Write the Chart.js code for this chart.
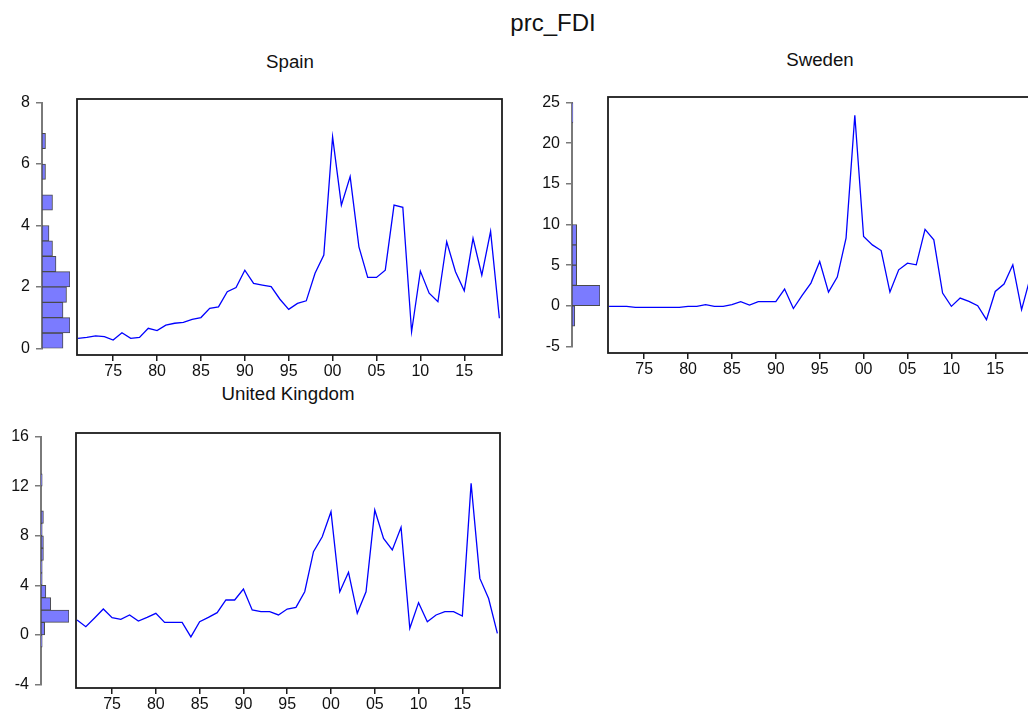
<!DOCTYPE html>
<html>
<head>
<meta charset="utf-8">
<title>prc_FDI</title>
<script src="https://cdn.jsdelivr.net/npm/chart.js@4.4.1/dist/chart.umd.min.js"></script>
<style>
  html, body { margin: 0; padding: 0; width: 1028px; height: 718px; overflow: hidden; background: #ffffff; }
  canvas { position: absolute; }
  .ttl { position: absolute; font-family: "Liberation Sans", Arial, sans-serif; color: #111111;
         white-space: nowrap; text-align: center; width: 400px; }
</style>
</head>
<body>
<div class="ttl" style="left:353px; top:11px; font-size:24px; line-height:24px;">prc_FDI</div>
<div class="ttl" style="left:90px; top:53px; font-size:18.7px; line-height:18.7px;">Spain</div>
<div class="ttl" style="left:620px; top:51px; font-size:18.7px; line-height:18.7px;">Sweden</div>
<div class="ttl" style="left:88px; top:385px; font-size:18.7px; line-height:18.7px;">United Kingdom</div>

<script>
// Annual observations
const years = [1971, 1972, 1973, 1974, 1975, 1976, 1977, 1978, 1979, 1980,
               1981, 1982, 1983, 1984, 1985, 1986, 1987, 1988, 1989, 1990,
               1991, 1992, 1993, 1994, 1995, 1996, 1997, 1998, 1999, 2000,
               2001, 2002, 2003, 2004, 2005, 2006, 2007, 2008, 2009, 2010,
               2011, 2012, 2013, 2014, 2015, 2016, 2017, 2018, 2019];

// FDI inflows, % of GDP
const spain = [0.43, 0.46, 0.51, 0.49, 0.38, 0.61, 0.43, 0.46, 0.75, 0.68,
               0.85, 0.91, 0.94, 1.03, 1.09, 1.38, 1.43, 1.91, 2.04, 2.59,
               2.17, 2.12, 2.07, 1.67, 1.35, 1.54, 1.62, 2.49, 3.07, 6.81,
               4.65, 5.55, 3.33, 2.36, 2.36, 2.59, 4.65, 4.58, 0.64, 2.56,
               1.86, 1.59, 3.49, 2.54, 1.94, 3.60, 2.43, 3.82, 1.07];

const sweden = [0.16, 0.16, 0.16, 0.03, 0.03, 0.03, 0.03, 0.03, 0.03, 0.16,
                0.16, 0.36, 0.16, 0.16, 0.36, 0.72, 0.32, 0.72, 0.72, 0.72,
                2.23, -0.10, 1.47, 2.95, 5.54, 1.87, 3.67, 8.33, 23.07, 8.53,
                7.53, 6.85, 1.87, 4.54, 5.34, 5.14, 9.40, 8.13, 1.75, 0.16,
                1.16, 0.76, 0.24, -1.43, 1.95, 2.83, 5.14, -0.24, 3.67];

const unitedKingdom = [1.28, 0.76, 1.44, 2.15, 1.47, 1.34, 1.68, 1.20, 1.49, 1.81,
                       1.10, 1.10, 1.10, -0.05, 1.15, 1.49, 1.86, 2.86, 2.86, 3.72,
                       2.07, 1.94, 1.94, 1.68, 2.15, 2.28, 3.51, 6.66, 7.84, 9.81,
                       3.51, 5.04, 1.81, 3.51, 9.94, 7.71, 6.80, 8.58, 0.63, 2.65,
                       1.15, 1.68, 1.94, 1.94, 1.60, 12.04, 4.56, 2.97, 0.23];

// Axis ticks
const yearTicks = [1975, 1980, 1985, 1990, 1995, 2000, 2005, 2010, 2015];
const spainTicks = [0, 2, 4, 6, 8];
const swedenTicks = [-5, 0, 5, 10, 15, 20, 25];
const ukTicks = [-4, 0, 4, 8, 12, 16];

// Histogram bin widths
const spainBin = 0.5;
const swedenBin = 2.5;
const ukBin = 1;

// ---- styling / layout ----
const FONT = '"Liberation Sans", Arial, sans-serif';
const TEXT = '#111111';
const LINE_BLUE = '#0000ff';
const BAR_FILL = '#7b7bff';
const BAR_EDGE = '#4a4a4a';
const AXIS_GRAY = '#7a7a7a';
const FRAME = '#1c1c1c';
const X_MIN = 1970.88, X_MAX = 2019.3;
const HIST_SPAN = 28;   // pixel length of the tallest histogram bar

Chart.defaults.font.family = FONT;
Chart.defaults.font.size = 16;
Chart.defaults.color = TEXT;
Chart.defaults.animation = false;

const panels = [
  { values: spain, ticks: spainTicks, bin: spainBin, lo: 0, hi: 8,
    zeroPx: 352.0, ppu: 31.59, histLeft: 0, axisX: 42,
    box: { left: 77, top: 99, right: 502, bottom: 355 } },
  { values: sweden, ticks: swedenTicks, bin: swedenBin, lo: -5, hi: 25,
    zeroPx: 307.7, ppu: 8.34, histLeft: 530, axisX: 572,
    box: { left: 608, top: 97, right: 1033, bottom: 353 } },
  { values: unitedKingdom, ticks: ukTicks, bin: ukBin, lo: -4, hi: 16,
    zeroPx: 636.3, ppu: 12.7, histLeft: 0, axisX: 41,
    box: { left: 76, top: 433, right: 500, bottom: 688 } }
];

function addCanvas(left, top, width, height) {
  const c = document.createElement('canvas');
  c.width = width; c.height = height;
  c.style.left = left + 'px'; c.style.top = top + 'px';
  c.style.width = width + 'px'; c.style.height = height + 'px';
  document.body.appendChild(c);
  return c;
}

// frequency of observations in each bin of the axis range
function histogram(values, lo, hi, width) {
  const n = Math.round((hi - lo) / width);
  const counts = new Array(n).fill(0);
  values.forEach(v => {
    const i = Math.floor((v - lo) / width + 1e-9);
    if (i >= 0 && i < n) counts[i]++;
  });
  return counts.map((c, i) => ({ x: c, y: lo + (i + 0.5) * width })).filter(d => d.x > 0);
}

// outline around the plotting area
const framePlugin = {
  id: 'frame',
  afterDatasetsDraw(chart) {
    const { ctx, chartArea: a } = chart;
    ctx.save();
    ctx.strokeStyle = FRAME;
    ctx.lineWidth = 1.8;
    ctx.strokeRect(a.left, a.top, a.right - a.left, a.bottom - a.top);
    ctx.restore();
  }
};

panels.forEach(p => {
  // ---- histogram on the left ----
  const axisTop = p.zeroPx - p.hi * p.ppu;
  const axisBottom = p.zeroPx - p.lo * p.ppu;
  const hTop = Math.floor(axisTop) - 12;
  const hHeight = Math.ceil(axisBottom) + 12 - hTop;
  const yAxisW = p.axisX - p.histLeft;
  const hWidth = yAxisW + HIST_SPAN + 3;
  const bins = histogram(p.values, p.lo, p.hi, p.bin);
  const maxCount = Math.max(...bins.map(b => b.x));

  new Chart(addCanvas(p.histLeft, hTop, hWidth, hHeight), {
    type: 'bar',
    data: { datasets: [{
      data: bins,
      backgroundColor: BAR_FILL,
      borderColor: BAR_EDGE,
      borderWidth: 1,
      borderSkipped: false,
      barPercentage: 1,
      categoryPercentage: 1
    }] },
    options: {
      indexAxis: 'y',
      responsive: false,
      layout: { padding: { left: 0, right: 3, top: axisTop - hTop, bottom: hTop + hHeight - axisBottom } },
      plugins: { legend: { display: false }, tooltip: { enabled: false } },
      scales: {
        x: { type: 'linear', display: false, min: 0, max: maxCount },
        y: {
          type: 'linear', min: p.lo, max: p.hi, bounds: 'data', offset: false,
          afterBuildTicks: s => { s.ticks = p.ticks.map(v => ({ value: v })); },
          afterFit: s => { s.width = yAxisW; },
          ticks: { padding: 6, color: TEXT, font: { size: 16 } },
          grid: { drawOnChartArea: false, drawTicks: true, tickLength: 6, color: AXIS_GRAY, lineWidth: 1.5, offset: false },
          border: { display: true, color: AXIS_GRAY, width: 2 }
        }
      }
    }
  });

  // ---- time series plot ----
  const b = p.box;
  const xAxisH = 28;
  const lTop = b.top - 2;
  const lWidth = (b.right - b.left) + 4;
  const lHeight = (b.bottom - b.top) + 2 + xAxisH;

  new Chart(addCanvas(b.left - 2, lTop, lWidth, lHeight), {
    type: 'line',
    data: { datasets: [{
      data: years.map((yr, i) => ({ x: yr, y: p.values[i] })),
      borderColor: LINE_BLUE,
      borderWidth: 1.3,
      pointRadius: 0,
      tension: 0,
      fill: false
    }] },
    options: {
      responsive: false,
      layout: { padding: { left: 2, right: 2, top: 2, bottom: 0 } },
      plugins: { legend: { display: false }, tooltip: { enabled: false } },
      scales: {
        x: {
          type: 'linear', min: X_MIN, max: X_MAX, bounds: 'data',
          afterBuildTicks: s => { s.ticks = yearTicks.map(v => ({ value: v })); },
          afterFit: s => { s.height = xAxisH; },
          ticks: { padding: 1, maxRotation: 0, autoSkip: false, color: TEXT, font: { size: 16 },
                   callback: v => String(v % 100).padStart(2, '0') },
          grid: { drawOnChartArea: false, drawTicks: true, tickLength: 6, color: FRAME, lineWidth: 1.5 },
          border: { display: false }
        },
        y: {
          type: 'linear', display: false, bounds: 'data',
          min: (p.zeroPx - b.bottom) / p.ppu,
          max: (p.zeroPx - b.top) / p.ppu
        }
      }
    },
    plugins: [framePlugin]
  });
});
</script>
</body>
</html>
